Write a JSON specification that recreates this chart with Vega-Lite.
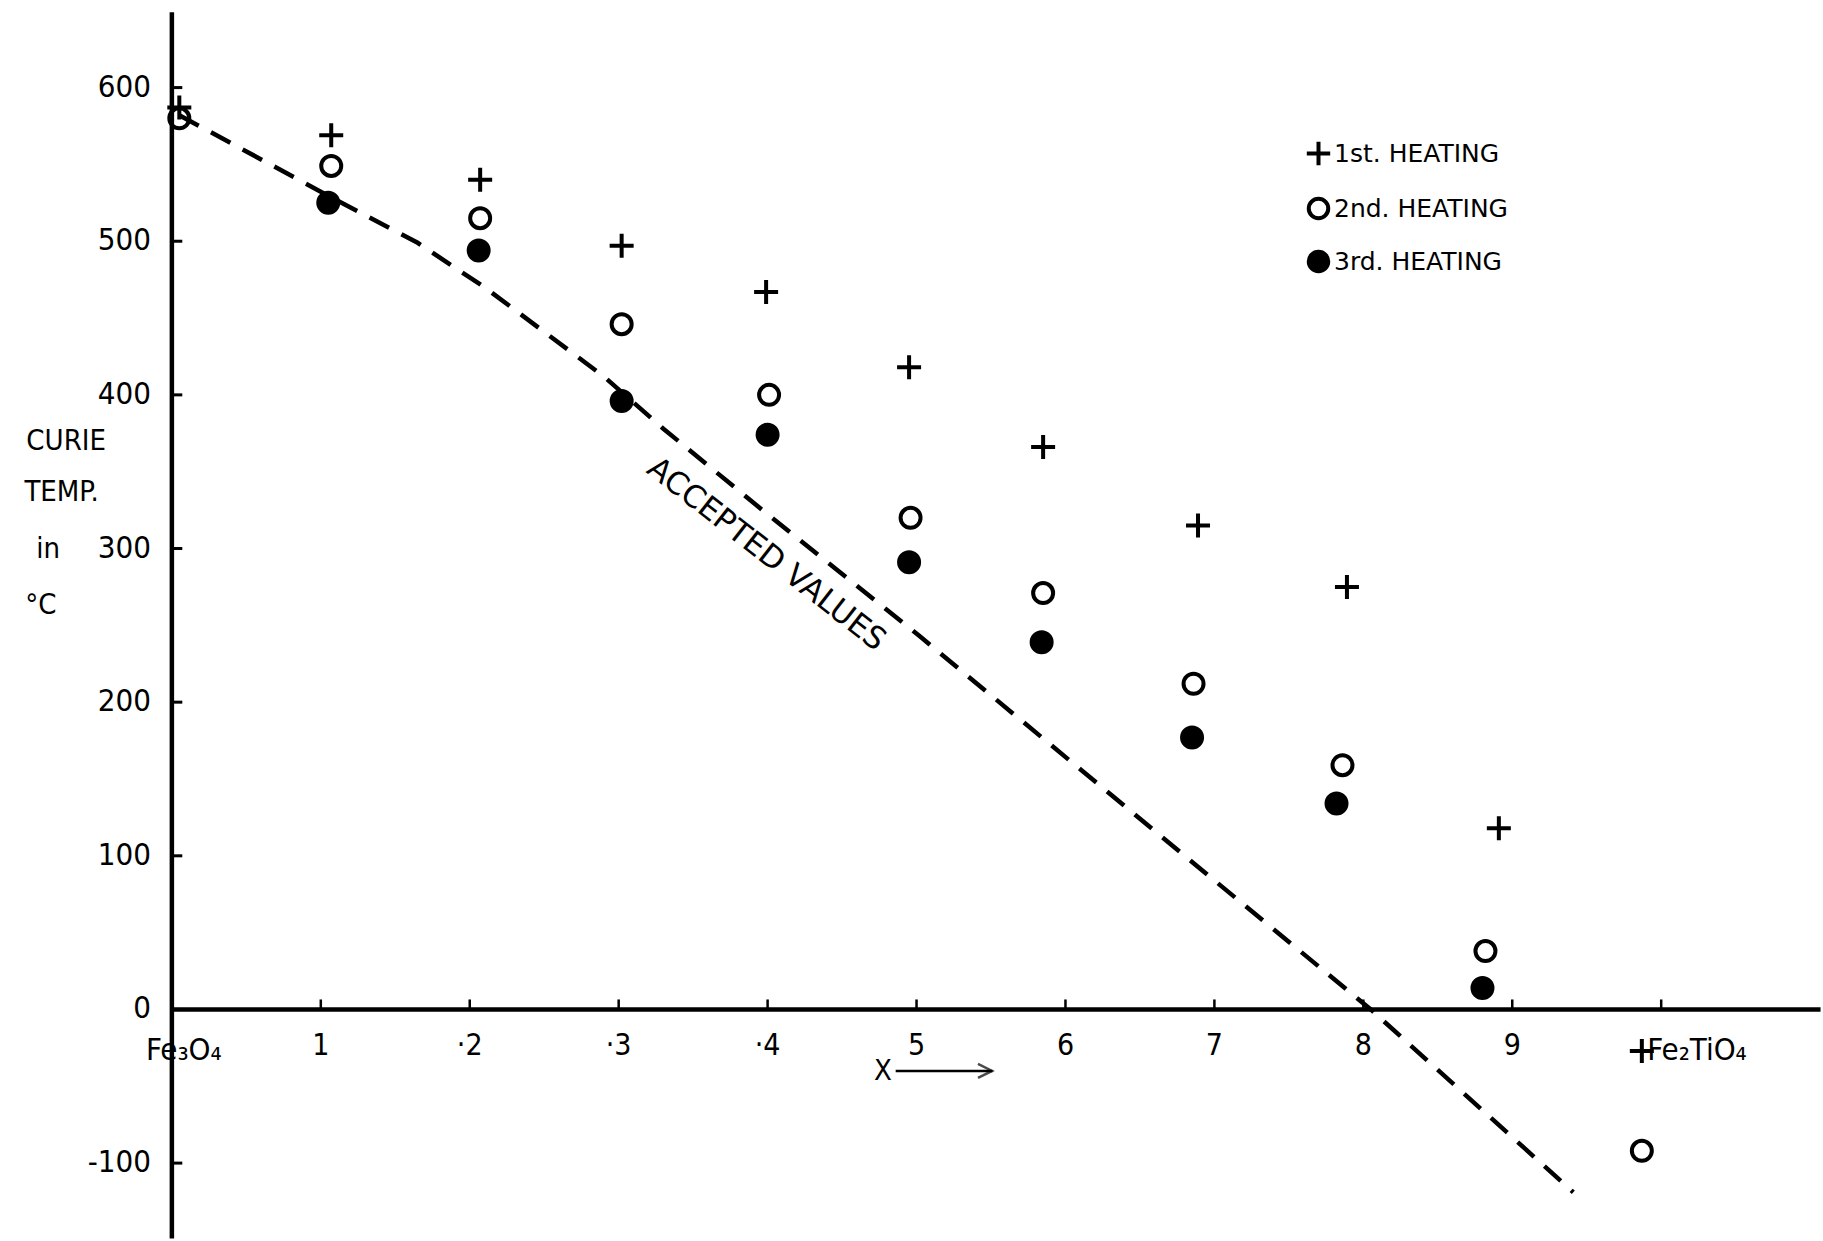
{
  "$schema": "https://vega.github.io/schema/vega-lite/v6.json",
  "width": 1823,
  "height": 1241,
  "autosize": {"type": "fit", "contains": "padding"},
  "padding": 0,
  "background": "white",
  "config": {
    "view": {"stroke": null},
    "font": "DejaVu Sans Condensed, DejaVu Sans",
    "text": {"font": "DejaVu Sans Condensed, DejaVu Sans", "color": "black"},
    "legend": {"title": null, "orient": "none", "legendX": 1306, "legendY": 141, "padding": 0, "labelFontSize": 25, "labelFont": "DejaVu Sans", "labelColor": "black", "labelOffset": 3, "labelLimit": 0, "rowPadding": 16, "symbolSize": 380, "symbolStrokeWidth": 4, "symbolStrokeColor": "black"}
  },
  "datasets": {
    "points": [
      {"heating": "1st. HEATING", "x": 0.005, "t": 587},
      {"heating": "1st. HEATING", "x": 0.107, "t": 569},
      {"heating": "1st. HEATING", "x": 0.207, "t": 540},
      {"heating": "1st. HEATING", "x": 0.302, "t": 497},
      {"heating": "1st. HEATING", "x": 0.399, "t": 467},
      {"heating": "1st. HEATING", "x": 0.495, "t": 418},
      {"heating": "1st. HEATING", "x": 0.585, "t": 366},
      {"heating": "1st. HEATING", "x": 0.689, "t": 315},
      {"heating": "1st. HEATING", "x": 0.789, "t": 275},
      {"heating": "1st. HEATING", "x": 0.891, "t": 118},
      {"heating": "1st. HEATING", "x": 0.987, "t": -27},
      {"heating": "2nd. HEATING", "x": 0.005, "t": 580},
      {"heating": "2nd. HEATING", "x": 0.107, "t": 549},
      {"heating": "2nd. HEATING", "x": 0.207, "t": 515},
      {"heating": "2nd. HEATING", "x": 0.302, "t": 446},
      {"heating": "2nd. HEATING", "x": 0.401, "t": 400},
      {"heating": "2nd. HEATING", "x": 0.496, "t": 320},
      {"heating": "2nd. HEATING", "x": 0.585, "t": 271},
      {"heating": "2nd. HEATING", "x": 0.686, "t": 212},
      {"heating": "2nd. HEATING", "x": 0.786, "t": 159},
      {"heating": "2nd. HEATING", "x": 0.882, "t": 38},
      {"heating": "2nd. HEATING", "x": 0.987, "t": -92},
      {"heating": "3rd. HEATING", "x": 0.105, "t": 525},
      {"heating": "3rd. HEATING", "x": 0.206, "t": 494},
      {"heating": "3rd. HEATING", "x": 0.302, "t": 396},
      {"heating": "3rd. HEATING", "x": 0.400, "t": 374},
      {"heating": "3rd. HEATING", "x": 0.495, "t": 291},
      {"heating": "3rd. HEATING", "x": 0.584, "t": 239},
      {"heating": "3rd. HEATING", "x": 0.685, "t": 177},
      {"heating": "3rd. HEATING", "x": 0.782, "t": 134},
      {"heating": "3rd. HEATING", "x": 0.880, "t": 14}
    ],
    "accepted": [
      {"x": 0.005, "t": 582},
      {"x": 0.110, "t": 527},
      {"x": 0.165, "t": 499},
      {"x": 0.210, "t": 470},
      {"x": 0.250, "t": 441},
      {"x": 0.290, "t": 412},
      {"x": 0.330, "t": 378},
      {"x": 0.394, "t": 327},
      {"x": 0.502, "t": 243},
      {"x": 0.700, "t": 84},
      {"x": 0.805, "t": 0},
      {"x": 0.941, "t": -119}
    ],
    "yticks": [
      {"t": 600, "label": "600"},
      {"t": 500, "label": "500"},
      {"t": 400, "label": "400"},
      {"t": 300, "label": "300"},
      {"t": 200, "label": "200"},
      {"t": 100, "label": "100"},
      {"t": 0, "label": "0"},
      {"t": -100, "label": "-100"}
    ],
    "xticks": [
      {"x": 0.1, "label": "1"},
      {"x": 0.2, "label": "·2"},
      {"x": 0.3, "label": "·3"},
      {"x": 0.4, "label": "·4"},
      {"x": 0.5, "label": "5"},
      {"x": 0.6, "label": "6"},
      {"x": 0.7, "label": "7"},
      {"x": 0.8, "label": "8"},
      {"x": 0.9, "label": "9"},
      {"x": 1.0, "label": ""}
    ],
    "ends": [
      {"x": 0.008, "label": "Fe₃O₄"},
      {"x": 1.024, "label": "Fe₂TiO₄"}
    ],
    "ytitle": [
      {"x": -0.071, "t": 370, "label": "CURIE"},
      {"x": -0.074, "t": 337, "label": "TEMP."},
      {"x": -0.083, "t": 300, "label": "in"},
      {"x": -0.088, "t": 263, "label": "°C"}
    ]
  },
  "layer": [
    {
      "data": {"name": "accepted"},
      "mark": {"type": "line", "color": "black", "strokeWidth": 4.5, "strokeDash": [22, 14]},
      "encoding": {
        "x": {"field": "x", "type": "quantitative", "scale": {"domain": [-0.1154, 1.1073], "nice": false, "zero": false}, "axis": null},
        "y": {"field": "t", "type": "quantitative", "scale": {"domain": [-149.4, 657], "nice": false, "zero": false}, "axis": null}
      }
    },
    {
      "data": {"values": [{}]},
      "mark": {"type": "rule", "color": "black", "strokeWidth": 4.5},
      "encoding": {
        "x": {"datum": 0, "type": "quantitative"},
        "y": {"datum": -149, "type": "quantitative"},
        "y2": {"datum": 649}
      }
    },
    {
      "data": {"values": [{}]},
      "mark": {"type": "rule", "color": "black", "strokeWidth": 4.5},
      "encoding": {
        "x": {"datum": 0, "type": "quantitative"},
        "x2": {"datum": 1.107},
        "y": {"datum": 0, "type": "quantitative"}
      }
    },
    {
      "data": {"name": "yticks"},
      "mark": {"type": "rule", "color": "black", "strokeWidth": 3},
      "encoding": {
        "x": {"datum": 0, "type": "quantitative"},
        "x2": {"datum": 0.007},
        "y": {"field": "t", "type": "quantitative"}
      }
    },
    {
      "data": {"name": "yticks"},
      "mark": {"type": "text", "align": "right", "baseline": "middle", "fontSize": 31},
      "encoding": {
        "x": {"datum": -0.014, "type": "quantitative"},
        "y": {"field": "t", "type": "quantitative"},
        "text": {"field": "label"}
      }
    },
    {
      "data": {"name": "xticks"},
      "mark": {"type": "rule", "color": "black", "strokeWidth": 2.5},
      "encoding": {
        "x": {"field": "x", "type": "quantitative"},
        "y": {"datum": 0, "type": "quantitative"},
        "y2": {"datum": 6.5}
      }
    },
    {
      "data": {"name": "xticks"},
      "mark": {"type": "text", "align": "center", "baseline": "middle", "fontSize": 30},
      "encoding": {
        "x": {"field": "x", "type": "quantitative"},
        "y": {"datum": -24, "type": "quantitative"},
        "text": {"field": "label"}
      }
    },
    {
      "data": {"name": "ends"},
      "mark": {"type": "text", "align": "center", "baseline": "middle", "fontSize": 31},
      "encoding": {
        "x": {"field": "x", "type": "quantitative"},
        "y": {"datum": -27, "type": "quantitative"},
        "text": {"field": "label"}
      }
    },
    {
      "data": {"name": "ytitle"},
      "mark": {"type": "text", "align": "center", "baseline": "middle", "fontSize": 29},
      "encoding": {
        "x": {"field": "x", "type": "quantitative"},
        "y": {"field": "t", "type": "quantitative"},
        "text": {"field": "label"}
      }
    },
    {
      "data": {"values": [{"label": "ACCEPTED  VALUES"}]},
      "mark": {"type": "text", "align": "center", "baseline": "middle", "fontSize": 31, "angle": 38, "font": "DejaVu Sans"},
      "encoding": {
        "x": {"datum": 0.399, "type": "quantitative"},
        "y": {"datum": 296, "type": "quantitative"},
        "text": {"field": "label"}
      }
    },
    {
      "data": {"values": [{"label": "X"}]},
      "mark": {"type": "text", "align": "center", "baseline": "middle", "fontSize": 29},
      "encoding": {
        "x": {"datum": 0.4775, "type": "quantitative"},
        "y": {"datum": -40, "type": "quantitative"},
        "text": {"field": "label"}
      }
    },
    {
      "data": {"values": [{}]},
      "mark": {"type": "rule", "color": "black", "strokeWidth": 2.5},
      "encoding": {
        "x": {"datum": 0.486, "type": "quantitative"},
        "x2": {"datum": 0.551},
        "y": {"datum": -40, "type": "quantitative"}
      }
    },
    {
      "data": {"values": [{}]},
      "mark": {"type": "point", "shape": "M-1,-1L1,0L-1,1", "size": 200, "stroke": "black", "strokeWidth": 2.5, "filled": false},
      "encoding": {
        "x": {"datum": 0.546, "type": "quantitative"},
        "y": {"datum": -40, "type": "quantitative"}
      }
    },
    {
      "data": {"name": "points"},
      "mark": {"type": "point", "size": 400, "opacity": 1, "strokeWidth": 4},
      "encoding": {
        "x": {"field": "x", "type": "quantitative"},
        "y": {"field": "t", "type": "quantitative"},
        "stroke": {
          "field": "heating", "type": "nominal",
          "scale": {"domain": ["1st. HEATING", "2nd. HEATING", "3rd. HEATING"], "range": ["black", "black", "black"]}
        },
        "shape": {
          "field": "heating", "type": "nominal",
          "scale": {"domain": ["1st. HEATING", "2nd. HEATING", "3rd. HEATING"], "range": ["M-1.2,0H1.2M0,-1.2V1.2", "circle", "circle"]}
        },
        "fill": {
          "field": "heating", "type": "nominal",
          "scale": {"domain": ["1st. HEATING", "2nd. HEATING", "3rd. HEATING"], "range": ["transparent", "transparent", "black"]}
        }
      }
    }
  ]
}
